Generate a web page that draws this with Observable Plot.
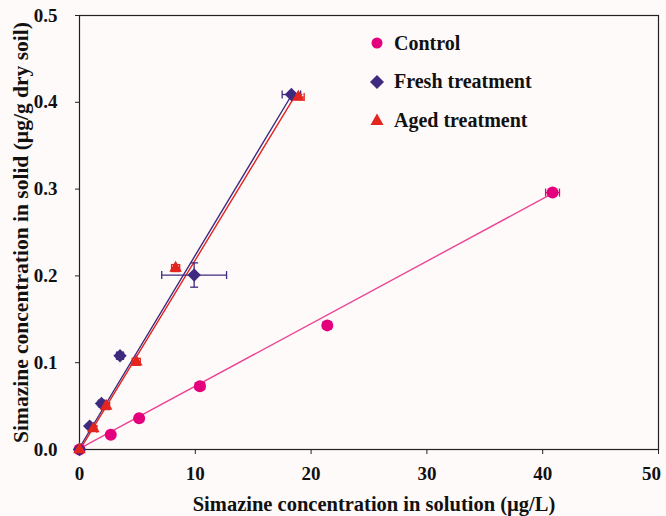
<!DOCTYPE html>
<html>
<head>
<meta charset="utf-8">
<script src="https://cdn.jsdelivr.net/npm/d3@7"></script>
<script src="https://cdn.jsdelivr.net/npm/@observablehq/plot@0.6"></script>
<style>
  html, body { margin: 0; padding: 0; background: #fefafa; }
  #wrap { position: relative; width: 666px; height: 516px; }
  #legend { position: absolute; left: 366px; top: 24px; font-family: "Liberation Serif", serif; font-weight: bold; font-size: 20px; color: #111; }
  #legend .row { display: flex; align-items: center; height: 38.5px; }
  #legend svg { width: 22px; height: 22px; margin-right: 6px; }
</style>
</head>
<body>
<div id="wrap">
  <div id="chart"></div>
  <div id="legend"></div>
</div>
<script>
// Series names and colours
const seriesNames = ["Control", "Fresh treatment", "Aged treatment"];
const seriesColors = ["#e4007c", "#3e2a7e", "#e3241f"];
const fitColors = ["#eb4594", "#3e2a7e", "#e3241f"];
const seriesSymbols = ["circle", "diamond2", "triangle2"];

// Axis titles
const xTitle = "Simazine concentration in solution (µg/L)";
const yTitle = "Simazine concentration in solid (µg/g dry soil)";

// Control
const controlX    = [0, 2.7, 5.15, 10.4, 21.4, 40.85];
const controlY    = [0, 0.017, 0.036, 0.073, 0.143, 0.296];
const controlXErr = [0, 0.2, 0.25, 0.4, 0.35, 0.6];
const controlYErr = [0, 0.002, 0.002, 0.003, 0.004, 0.003];

// Fresh treatment
const freshX    = [0, 0.88, 1.9, 3.5, 9.9, 18.3];
const freshY    = [0, 0.027, 0.053, 0.108, 0.201, 0.409];
const freshXErr = [0, 0.15, 0.25, 0.3, 2.8, 0.8];
const freshYErr = [0, 0.002, 0.003, 0.004, 0.014, 0.002];

// Aged treatment
const agedX    = [0, 1.2, 2.3, 4.9, 8.3, 18.9];
const agedY    = [0, 0.024, 0.05, 0.101, 0.209, 0.406];
const agedXErr = [0, 0.3, 0.3, 0.35, 0.35, 0.5];
const agedYErr = [0, 0.003, 0.004, 0.004, 0.004, 0.003];

// Fitted lines (end points)
const controlFitX = [0, 40.85];
const controlFitY = [0.001, 0.295];
const freshFitX = [0, 18.35];
const freshFitY = [0.002, 0.409];
const agedFitX = [0, 18.6];
const agedFitY = [-0.001, 0.407];

// Axis ticks
const xTicks = [0, 10, 20, 30, 40, 50];
const yTicks = [0, 0.1, 0.2, 0.3, 0.4, 0.5];

const xs = [controlX, freshX, agedX];
const ys = [controlY, freshY, agedY];
const xe = [controlXErr, freshXErr, agedXErr];
const ye = [controlYErr, freshYErr, agedYErr];
const fx = [controlFitX, freshFitX, agedFitX];
const fy = [controlFitY, freshFitY, agedFitY];

const points = [];
seriesNames.forEach((s, k) => {
  xs[k].forEach((x, i) => points.push({series: s, x, y: ys[k][i], xe: xe[k][i], ye: ye[k][i]}));
});
const fits = [];
seriesNames.forEach((s, k) => {
  fx[k].forEach((x, i) => fits.push({series: s, fitColor: fitColors[k], x, y: fy[k][i]}));
});
const errPts = points.filter(d => d.xe > 0 || d.ye > 0);

const vbar = { draw(ctx, size) { const r = Math.sqrt(size) / 2; ctx.moveTo(0, -r); ctx.lineTo(0, r); } };
const hbar = { draw(ctx, size) { const r = Math.sqrt(size) / 2; ctx.moveTo(-r, 0); ctx.lineTo(r, 0); } };

const lastTick = xTicks[xTicks.length - 1];

const chart = Plot.plot({
  width: 666,
  height: 516,
  marginLeft: 79,
  marginRight: 8,
  marginTop: 15,
  marginBottom: 67,
  style: {fontFamily: "Liberation Serif, serif", fontWeight: "bold", fontSize: "19px", background: "#fefafa", color: "#111"},
  x: {domain: [0, 50], ticks: xTicks},
  y: {domain: [0, 0.5], ticks: yTicks, tickFormat: d => d.toFixed(1)},
  color: {domain: seriesNames, range: seriesColors},
  symbol: {domain: seriesNames, range: seriesSymbols},
  marks: [
    Plot.frame({stroke: "#222", strokeWidth: 1.2}),
    Plot.axisX({ticks: xTicks, tickFormat: d => d === lastTick ? "" : String(d), tickSize: 5, tickPadding: 12, stroke: "#222", fontSize: 19, label: null}),
    Plot.axisX({ticks: [lastTick], tickSize: 0, tickPadding: 17, fontSize: 19, label: null, dx: -7}),
    Plot.text([xTitle], {text: d => d, frameAnchor: "bottom", dx: 5, dy: 61, fontSize: 20.5, lineAnchor: "bottom"}),
    Plot.axisY({ticks: yTicks, tickFormat: d => d.toFixed(1), tickSize: 4, tickPadding: 18, stroke: "#222", fontSize: 19, label: null}),
    Plot.axisY({ticks: [], label: yTitle, labelAnchor: "center", labelArrow: "none", labelOffset: 67, fontSize: 21.5}),
    Plot.line(fits, {x: "x", y: "y", z: "series", stroke: "fitColor", strokeWidth: 1.4}),
    // error bars
    Plot.link(errPts, {x1: d => d.x - d.xe, x2: d => d.x + d.xe, y1: "y", y2: "y", stroke: "series", strokeWidth: 1.3}),
    Plot.link(errPts, {x1: "x", x2: "x", y1: d => d.y - d.ye, y2: d => d.y + d.ye, stroke: "series", strokeWidth: 1.3}),
    Plot.dot(errPts, {x: d => d.x - d.xe, y: "y", symbol: vbar, r: 4.5, stroke: "series", strokeWidth: 1.3}),
    Plot.dot(errPts, {x: d => d.x + d.xe, y: "y", symbol: vbar, r: 4.5, stroke: "series", strokeWidth: 1.3}),
    Plot.dot(errPts, {x: "x", y: d => d.y - d.ye, symbol: hbar, r: 4.5, stroke: "series", strokeWidth: 1.3}),
    Plot.dot(errPts, {x: "x", y: d => d.y + d.ye, symbol: hbar, r: 4.5, stroke: "series", strokeWidth: 1.3}),
    Plot.dot(points, {x: "x", y: "y", symbol: "series", fill: "series", r: 6, stroke: "none"})
  ]
});
document.getElementById("chart").append(chart);

const legend = document.getElementById("legend");
const legendShapes = [
  '<circle cx="11" cy="11" r="5.5"/>',
  '<path d="M11 4 L18 11 L11 18 L4 11 Z"/>',
  '<path d="M11 4.5 L17.5 16 L4.5 16 Z"/>'
];
seriesNames.forEach((s, k) => {
  const row = document.createElement("div");
  row.className = "row";
  row.innerHTML = `<svg viewBox="0 0 22 22" fill="${seriesColors[k]}">${legendShapes[k]}</svg><span>${s}</span>`;
  legend.append(row);
});
</script>
</body>
</html>
